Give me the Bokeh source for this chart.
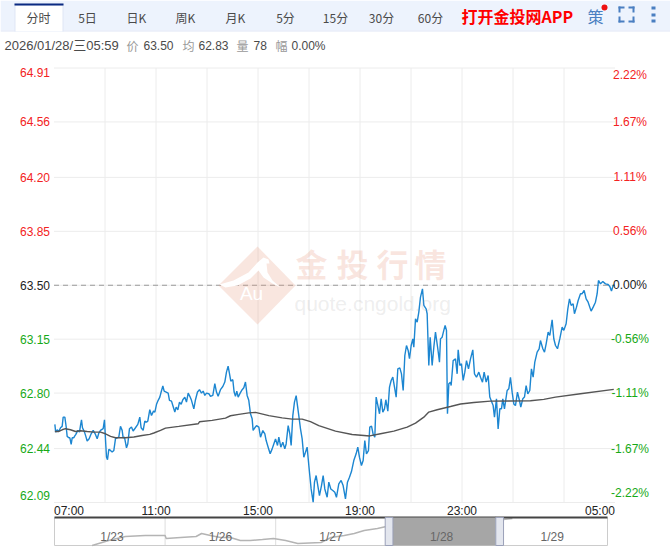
"""Intraday quote chart (minute view) with a navigator strip, written as one HTML page."""

from bokeh.core.properties import value
from bokeh.embed import file_html
from bokeh.layouts import column
from bokeh.models import BoxAnnotation, ColumnDataSource, Label, LabelSet, PolyAnnotation, Range1d
from bokeh.plotting import figure
from bokeh.resources import INLINE

# minutes after 07:00 and price of the blue line
price_minutes = [
    2, 4, 7.5, 11.4, 15.3, 19.2, 21.6, 25.5, 28.7, 31, 35, 37.3, 40.4, 42.8, 46.7, 48.2, 51.4, 56.1, 60, 62.4,
    64.7, 67, 71.8, 74.9, 78, 82.7, 87.4, 92.2, 97.6, 101.6, 105.5, 109.4, 115.7, 118.8, 121.2, 123.5, 125.9,
    129, 133, 136.8, 140.8, 144.7, 148.6, 152.5, 156.4, 160.4, 162.7, 165.8, 170.6, 173.7, 177.6, 182.3, 186.2,
    191.7, 197.2, 201.9, 205, 209.8, 213.7, 217.6, 220.7, 225.4, 229.4, 234.1, 237.3, 241.2, 245.1, 249, 252.1,
    256.1, 259.2, 263.9, 268.6, 271.7, 276.5, 279.6, 284.3, 287.4, 291.4, 295.3, 299.2, 303.1, 307.8, 311.7,
    315.7, 319.6, 323.5, 329, 332.9, 337.6, 342.3, 347, 351, 354.9, 358.8, 364.3, 368.2, 373.7, 378.4, 382.3,
    386.2, 391.7, 397.2, 401.9, 405.8, 409.7, 412.9, 416, 420.7, 423.8, 427, 430.1, 433.3, 438, 442.7, 446.6,
    450.5, 454.4, 458.3, 462.3, 466.2, 468.5, 472.5, 476.5, 482, 485.9, 491.4, 496.1, 499.2, 503.9, 508.6, 513.3,
    517.2, 521.2, 525.9, 529, 533.7, 538.4, 543.1, 546.2, 551, 554.9, 558, 561.9, 565.8, 569.8, 572.9, 576, 580,
    583.9, 587.8, 591.7, 595.6, 599.6, 601.9, 605, 609.8, 612.9, 616.8, 620.7, 624.6, 629.4, 633.3, 637.2, 642.7,
    646.6, 651.3, 656, 660.7, 664.6, 670.1, 675.6, 680.3, 685.8, 690.5, 695.2, 699.9, 705.4, 710.9, 714.8, 718.7,
    723.4, 727.4, 731.3, 735.2, 739.9, 743, 747.1, 751, 754.9, 758, 762, 765.9, 769.8, 773.7, 777.6, 780.8, 785.5,
    789.4, 793.3, 797.2, 801.2, 805.1, 809, 813.7, 817.6, 821.6, 825.5, 829.4, 833.3, 836.4, 840.4, 844.3, 846.6,
    850.6, 854.5, 858.4, 862.3, 867, 870.2, 875.6, 878, 881.9, 885.1, 889.8, 893.7, 897.6, 903.1, 907, 909.4,
    913.3, 917.2, 920.3, 923.5, 925.8, 929, 932.9, 934.5, 939.2, 944.7, 948.6, 951, 954.9, 958.8, 962.7, 966.6,
    970.6, 975.3, 980, 985.4, 989.4, 994.1, 999.6, 1003.5, 1008.2, 1012.1, 1016.8, 1021.5, 1025.4, 1028.6, 1033.3,
    1036.4, 1041.1, 1045, 1049, 1052.9, 1056, 1059.9, 1066.2, 1070.1, 1074, 1078, 1081.9, 1085.8, 1090.5, 1095.2,
    1098.3, 1103, 1107, 1110.9, 1114.8, 1119.5, 1123.4, 1127.4, 1131.3, 1136.8, 1141.5, 1144.6, 1150.2, 1154.1,
    1158, 1162.7, 1166.6, 1172.1, 1176, 1180, 1184.7, 1190.2, 1195.6, 1199.6, 1205, 1209, 1212.9, 1216.8, 1221.5,
    1224.6, 1229.4, 1233.3, 1238.8, 1242.7, 1247.4, 1252.1, 1256.8, 1263.8, 1268.6, 1274, 1278, 1281.1, 1285.8,
    1291.3, 1297.6, 1303.8, 1307.8, 1311.7, 1315.6, 1318.7,
]
price_values = [
    62.597, 62.547, 62.562, 62.551, 62.575, 62.584, 62.644, 62.644, 62.580, 62.519, 62.510, 62.510, 62.467, 62.510,
    62.510, 62.519, 62.532, 62.558, 62.547, 62.590, 62.627, 62.575, 62.547, 62.519, 62.489, 62.504, 62.536, 62.558,
    62.532, 62.504, 62.541, 62.558, 62.569, 62.627, 62.497, 62.385, 62.368, 62.435, 62.428, 62.417, 62.428, 62.504,
    62.510, 62.515, 62.584, 62.558, 62.510, 62.515, 62.445, 62.471, 62.569, 62.580, 62.554, 62.575, 62.597, 62.644,
    62.575, 62.558, 62.618, 62.612, 62.618, 62.692, 62.655, 62.683, 62.677, 62.727, 62.753, 62.774, 62.807, 62.846,
    62.813, 62.807, 62.800, 62.753, 62.748, 62.720, 62.677, 62.709, 62.692, 62.742, 62.727, 62.757, 62.774, 62.742,
    62.800, 62.779, 62.753, 62.698, 62.757, 62.807, 62.822, 62.800, 62.813, 62.785, 62.800, 62.796, 62.779, 62.785,
    62.861, 62.807, 62.779, 62.822, 62.843, 62.872, 62.936, 62.975, 62.926, 62.878, 62.887, 62.807, 62.779, 62.813,
    62.774, 62.800, 62.822, 62.835, 62.872, 62.785, 62.753, 62.666, 62.634, 62.558, 62.575, 62.589, 62.579, 62.514,
    62.557, 62.535, 62.492, 62.449, 62.406, 62.438, 62.470, 62.503, 62.460, 62.514, 62.449, 62.481, 62.438, 62.470,
    62.589, 62.535, 62.460, 62.654, 62.741, 62.784, 62.719, 62.654, 62.568, 62.503, 62.384, 62.416, 62.449, 62.330,
    62.265, 62.178, 62.092, 62.222, 62.265, 62.200, 62.135, 62.200, 62.265, 62.178, 62.124, 62.222, 62.178, 62.168,
    62.157, 62.124, 62.211, 62.233, 62.200, 62.114, 62.222, 62.254, 62.291, 62.362, 62.406, 62.449, 62.384, 62.330,
    62.362, 62.492, 62.406, 62.427, 62.579, 62.586, 62.532, 62.514, 62.774, 62.720, 62.666, 62.763, 62.677, 62.698,
    62.757, 62.683, 62.839, 62.882, 62.904, 62.839, 62.774, 62.958, 62.964, 62.925, 62.817, 63.044, 63.109, 63.077,
    63.023, 63.109, 63.152, 63.098, 63.282, 63.261, 63.326, 63.423, 63.477, 63.369, 63.347, 63.315, 62.979, 63.163,
    62.979, 63.098, 63.196, 63.088, 63.001, 63.152, 63.163, 63.207, 63.239, 63.207, 62.666, 62.860, 62.871, 62.849,
    63.011, 63.022, 62.925, 63.081, 62.979, 62.990, 62.882, 62.936, 63.011, 62.957, 63.022, 63.081, 62.925, 62.903,
    62.936, 62.903, 62.871, 62.936, 62.871, 62.914, 62.774, 62.752, 62.719, 62.644, 62.763, 62.568, 62.698, 62.698,
    62.763, 62.698, 62.817, 62.828, 62.903, 62.806, 62.730, 62.719, 62.806, 62.752, 62.709, 62.763, 62.774, 62.849,
    62.795, 62.817, 62.957, 62.903, 63.001, 63.066, 63.087, 63.141, 63.088, 63.066, 63.120, 63.196, 63.174, 63.276,
    63.153, 63.109, 63.088, 63.153, 63.228, 63.207, 63.250, 63.347, 63.412, 63.369, 63.380, 63.315, 63.358, 63.401,
    63.445, 63.445, 63.466, 63.412, 63.390, 63.332, 63.358, 63.390, 63.445, 63.531, 63.509, 63.525, 63.509, 63.505,
    63.492, 63.462, 63.499, 63.500,
]

# average price line
avg_minutes = [
    2, 11.4, 19.2, 27.1, 38.8, 50.6, 62.4, 78, 93.7, 109.4, 121.2, 133, 144.7, 168.2, 187.8, 207.4, 225.4, 234.9,
    250.6, 262.3, 293.7, 339.2, 342.3, 372.1, 403.5, 415.2, 434.8, 458.3, 474, 505.5, 536.8, 560.4, 583.9, 603.5,
    623, 662.3, 701.5, 743, 768.2, 799.6, 831, 850.6, 870.2, 881.9, 901.5, 932.9, 956.5, 987.8, 1027, 1121.1,
    1152.5, 1179.9, 1238.7, 1317.1,
]
avg_values = [
    62.551, 62.551, 62.562, 62.569, 62.562, 62.551, 62.556, 62.551, 62.547, 62.547, 62.536, 62.519, 62.510, 62.510,
    62.515, 62.525, 62.532, 62.541, 62.558, 62.573, 62.584, 62.601, 62.614, 62.623, 62.638, 62.653, 62.662, 62.672,
    62.675, 62.654, 62.639, 62.631, 62.631, 62.615, 62.589, 62.553, 62.531, 62.522, 62.536, 62.553, 62.579, 62.605,
    62.644, 62.677, 62.692, 62.713, 62.729, 62.739, 62.748, 62.750, 62.759, 62.774, 62.796, 62.824,
]

prev_close = 63.50
y_ticks = [64.91, 64.56, 64.20, 63.85, 63.50, 63.15, 62.80, 62.44, 62.09]
y_tick_labels = ["64.91", "64.56", "64.20", "63.85", "63.50", "63.15", "62.80", "62.44", "62.09"]
pct_labels = ["2.22%", "1.67%", "1.11%", "0.56%", "0.00%", "-0.56%", "-1.11%", "-1.67%", "-2.22%"]
x_grid_minutes = [120, 240, 360, 480, 600, 720, 840, 960, 1080, 1200]
x_tick_minutes = [0, 240, 480, 720, 960, 1320]
x_tick_labels = ["07:00", "11:00", "15:00", "19:00", "23:00", "05:00"]

# navigator strip: days since the left edge, relative level of the mini line
nav_days = [
    0.34, 0.49, 0.64, 0.82, 1.0, 1.01, 1.14, 1.28, 1.33, 1.41, 1.50, 1.59, 1.68, 1.77, 1.88, 1.98, 2.09, 2.20, 2.41,
    2.50, 2.62, 2.71, 2.80, 2.92, 3.0, 3.07, 3.19, 3.31, 3.40, 3.47, 3.52, 3.58, 3.66, 3.79, 3.89, 3.99, 4.06, 4.14,
]
nav_levels = [
    0, 5, 9, 10, 10, 7, 8, 9, 12, 10, 8, 8, 5, 5, 6, 7, 5, 2, 3, 8, 10, 12, 15, 17, 19, 18, 20, 22, 20, 17, 16, 19,
    24, 19, 22, 28, 26, 27,
]
nav_label_days = [0.52, 1.5, 2.5, 3.5, 4.5]
nav_labels = ["1/23", "1/26", "1/27", "1/28", "1/29"]

tabs = ["分时", "5日", "日K", "周K", "月K", "5分", "15分", "30分", "60分"]
tab_centers = [38, 87, 136, 185, 235, 285, 335, 381, 430]

RED = "#f32222"
GREEN = "#17a917"
BLUE = "#4a7fc1"
LATIN = "Liberation Sans"
CJK = "Noto Sans CJK SC"

# Annotations get cut off at the frame in the svg output, so the frame fills the
# whole canvas and the ranges are padded to keep the chart where it belongs.
PX_PER_MIN = 0.425
PRICE_PER_PX = 2.82 / 434.5
main = figure(
    width=670,
    height=516,
    x_range=Range1d(-53.5 / PX_PER_MIN, (670 - 53.5) / PX_PER_MIN),
    y_range=Range1d(62.09 - 14 * PRICE_PER_PX, 64.91 + 67.5 * PRICE_PER_PX),
    output_backend="svg",
    toolbar_location=None,
    x_axis_location=None,
    y_axis_location=None,
    min_border=0,
    outline_line_color=None,
    frame_align=False,
)
main.grid.visible = False
GRID = "#ececec"
main.segment(x_grid_minutes, 62.09, x_grid_minutes, 64.91, line_color=GRID, line_width=1, level="underlay")
main.segment(0, y_ticks, 1320, y_ticks, line_color=GRID, line_width=1, level="underlay")


def box(left, top, right, bottom, color, **kw):
    main.add_layout(
        BoxAnnotation(
            left=left, right=right, top=top, bottom=bottom,
            left_units="canvas", right_units="canvas", top_units="canvas", bottom_units="canvas",
            fill_color=color, fill_alpha=1, line_color=None, **kw,
        )
    )


def text(label, x, y, color="#555555", size=12, font=LATIN, align="left", style="normal", alpha=1.0):
    main.add_layout(
        Label(
            text=label, x=x, y=y, x_units="canvas", y_units="canvas", text_color=color, text_alpha=alpha,
            text_font_size=f"{size}px", text_font=font, text_align=align, text_baseline="middle",
            text_font_style=style,
        )
    )


# watermark, see-through so the grid still shows
main.add_layout(
    PolyAnnotation(
        xs=[257, 295, 257, 218], ys=[246, 285, 324, 285], xs_units="canvas", ys_units="canvas",
        fill_color="#e89a80", fill_alpha=0.25, line_color=None,
    )
)
main.add_layout(
    PolyAnnotation(
        xs=[219, 233, 248, 257, 263, 268, 269, 266, 267, 272, 280, 272, 263, 258, 250, 237, 225],
        ys=[284, 280, 272, 262, 257, 259, 263, 263, 272, 280, 287, 283, 277, 270, 278, 285, 287],
        xs_units="canvas", ys_units="canvas", fill_color="white", fill_alpha=1, line_color=None,
    )
)
text("Au", 251, 293, color="white", size=19, align="center")
for ch, cx in zip("金投行情", [311, 352, 392, 430]):
    text(ch, cx, 262, color="#e89a80", size=32, font=CJK, align="center", style="bold", alpha=0.25)
text("quote.cngold.org", 294, 303, color="#999999", size=21, alpha=0.18)

main.line([0, 1320], [prev_close, prev_close], line_color="#999999", line_width=1, line_dash=[5, 4], level="annotation")
main.line(price_minutes, price_values, line_color="#1c86d1", line_width=1.4, level="annotation")
main.line(avg_minutes, avg_values, line_color="#555555", line_width=1.4, level="annotation")

# price and percent labels, coloured against the previous close
tick_colors = [RED if t > prev_close else GREEN if t < prev_close else "#222222" for t in y_ticks]
tick_baselines = ["top"] + ["middle"] * (len(y_ticks) - 2) + ["bottom"]
tick_source = ColumnDataSource(
    {
        "y": y_ticks,
        "left": y_tick_labels,
        "right": pct_labels,
        "color": tick_colors,
        "baseline": tick_baselines,
        "x0": [0] * len(y_ticks),
        "x1": [1320] * len(y_ticks),
        "nudge": [0] * (len(y_ticks) - 1) + [3],
    }
)
main.add_layout(
    LabelSet(
        x="x0", y="y", text="left", source=tick_source, x_offset=-4, y_offset={"field": "nudge"}, text_align="right",
        text_color={"field": "color"}, text_baseline={"field": "baseline"},
        text_font=value(LATIN), text_font_size="12px",
    )
)
main.add_layout(
    LabelSet(
        x="x1", y="y", text="right", source=tick_source, x_offset=15, y_offset={"field": "nudge"}, text_align="center",
        text_color={"field": "color"}, text_baseline={"field": "baseline"},
        text_font=value(LATIN), text_font_size="12px",
    )
)

x_aligns = ["left"] + ["center"] * (len(x_tick_minutes) - 2) + ["right"]
x_source = ColumnDataSource(
    {"x": x_tick_minutes, "y": [62.09] * len(x_tick_minutes), "label": x_tick_labels, "align": x_aligns}
)
main.add_layout(
    LabelSet(
        x="x", y="y", text="label", source=x_source, y_offset=-8, text_align={"field": "align"},
        text_baseline="middle", text_color="#222222", text_font=value(LATIN), text_font_size="12px",
    )
)

# tab bar
box(0, 0, 670, 30, "#edf3fd")
box(0, 30, 670, 31, "#dfe6f5")
box(14, 3, 63, 31, "#dfe6f5")
box(15, 5, 62, 31, "#ffffff")
box(14, 3, 63, 5, "#0b2a82")
for name, cx in zip(tabs, tab_centers):
    text(name, cx, 17, color="#4a4a4a", font=CJK, align="center")
text("打开金投网APP", 461, 15, color="#ff0000", size=16, font=CJK, style="bold")
text("策", 595, 15, color=BLUE, size=16, font=CJK, align="center")
box(601, 4, 607, 10, "#ee1111", border_radius=3)
for l, t, r, b in [
    (618, 6, 624, 8), (618, 6, 620, 12), (628, 6, 634, 8), (632, 6, 634, 12),
    (618, 20, 624, 22), (618, 16, 620, 22), (628, 20, 634, 22), (632, 16, 634, 22),
    (651, 6, 655, 9), (651, 13, 655, 16), (651, 19, 655, 22),
]:
    box(l, t, r, b, BLUE)

# quote line under the tabs
text("2026/01/28/三05:59", 4, 45, color="#4a4a4a", size=13, font=f"{LATIN}, {CJK}")
for label, x in [("价", 126), ("均", 182), ("量", 236), ("幅", 275)]:
    text(label, x, 45, color="#999999", font=CJK)
for number, x in [("63.50", 143), ("62.83", 198), ("78", 253), ("0.00%", 291)]:
    text(number, x, 45, color="#4a4a4a", size=12)

# navigator, same trick with the frame
PX_PER_DAY = 110.6
nav = figure(
    width=670,
    height=31,
    x_range=Range1d(-54 / PX_PER_DAY, (670 - 54) / PX_PER_DAY),
    y_range=Range1d(-2, 29),
    output_backend="svg",
    toolbar_location=None,
    x_axis_location=None,
    y_axis_location=None,
    min_border=0,
    outline_line_color=None,
    frame_align=False,
)
nav.grid.visible = False
nav.segment([1, 2], 0, [1, 2], 28, line_color="#dddddd", line_width=1)
nav.segment([0, 5], 0, [0, 5], 28, line_color="#cccccc", line_width=1)
nav.segment(0, 0, 5, 0, line_color="#cccccc", line_width=1)
nav.line(nav_days, nav_levels, line_color="#b4b4b4", line_width=1.5)
nav.add_layout(BoxAnnotation(left=3.06, right=3.99, bottom=0, top=28, fill_color="#a6a6a6", fill_alpha=1, line_color=None))
selected = [(d, v) for d, v in zip(nav_days, nav_levels) if 3.06 <= d <= 3.99]
nav.line([d for d, _ in selected], [v for _, v in selected], line_color="#888888", line_width=1.5, level="annotation")
nav_source = ColumnDataSource({"x": nav_label_days, "y": [9] * len(nav_labels), "label": nav_labels})
nav.add_layout(
    LabelSet(
        x="x", y="y", text="label", source=nav_source, text_align="center", text_baseline="middle",
        text_color="#666666", text_font=value(LATIN), text_font_size="12px",
    )
)
nav.segment(0, 28, 5, 28, line_color="#444444", line_width=2, level="annotation")
for left, right in [(2.99, 3.06), (3.99, 4.06)]:
    nav.add_layout(
        BoxAnnotation(
            left=left, right=right, bottom=0, top=28, fill_color="#e3e6ee", fill_alpha=1,
            line_color="#9aa0b8", line_alpha=1,
        )
    )

# the reference runs edge to edge, so the page margin is taken out of the flow
page = column(main, nav, spacing=0, styles={"position": "absolute", "left": "0px", "top": "0px"})

open("out.html", "w").write(file_html(page, INLINE))
